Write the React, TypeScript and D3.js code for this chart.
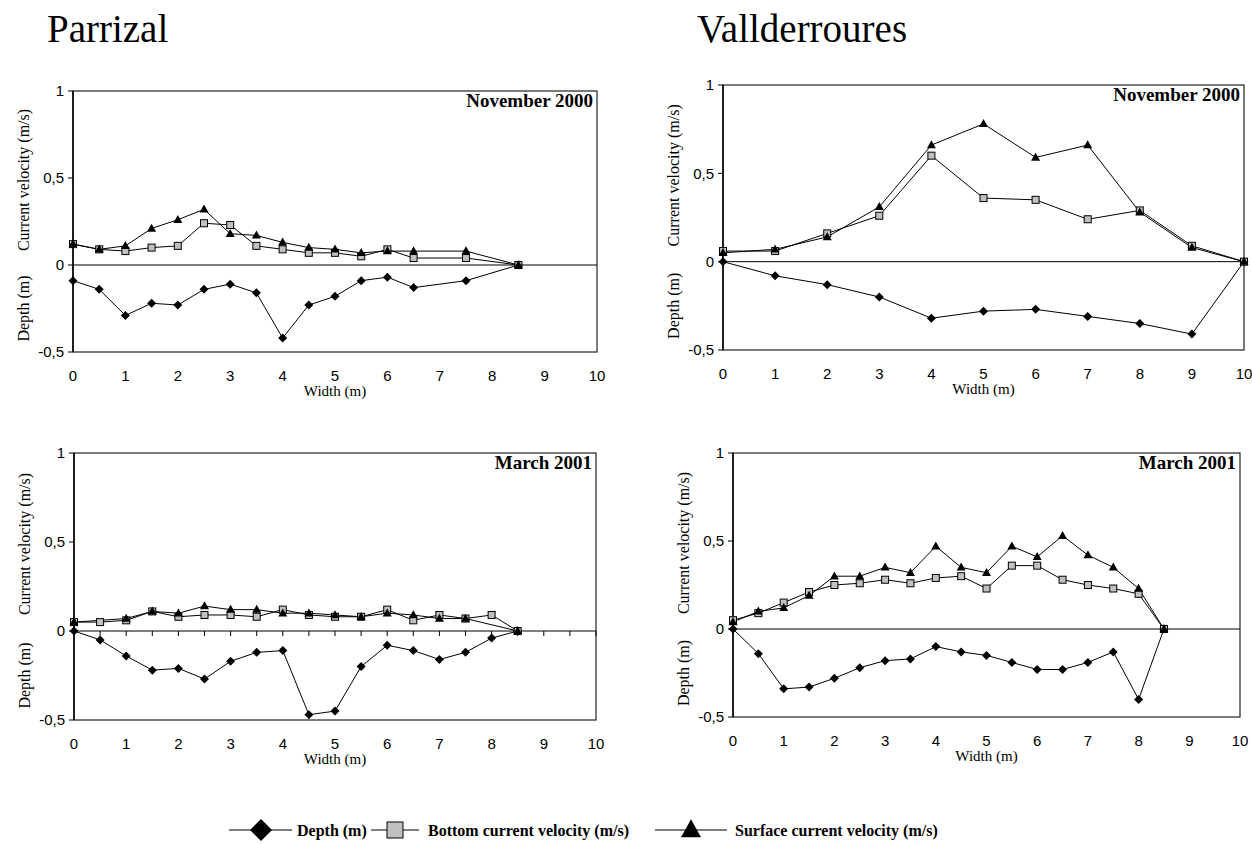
import React from "react";
import * as d3 from "d3";

// ---------- DATA ----------
const parrizalNovX = [0, 0.5, 1, 1.5, 2, 2.5, 3, 3.5, 4, 4.5, 5, 5.5, 6, 6.5, 7.5, 8.5];
const parrizalNovDepth = [-0.09, -0.14, -0.29, -0.22, -0.23, -0.14, -0.11, -0.16, -0.42, -0.23, -0.18, -0.09, -0.07, -0.13, -0.09, 0];
const parrizalNovBottom = [0.12, 0.09, 0.08, 0.10, 0.11, 0.24, 0.23, 0.11, 0.09, 0.07, 0.07, 0.05, 0.09, 0.04, 0.04, 0];
const parrizalNovSurface = [0.12, 0.09, 0.11, 0.21, 0.26, 0.32, 0.18, 0.17, 0.13, 0.10, 0.09, 0.07, 0.08, 0.08, 0.08, 0];

const vallNovX = [0, 1, 2, 3, 4, 5, 6, 7, 8, 9, 10];
const vallNovDepth = [0, -0.08, -0.13, -0.20, -0.32, -0.28, -0.27, -0.31, -0.35, -0.41, 0];
const vallNovBottom = [0.06, 0.06, 0.16, 0.26, 0.60, 0.36, 0.35, 0.24, 0.29, 0.09, 0];
const vallNovSurface = [0.05, 0.07, 0.14, 0.31, 0.66, 0.78, 0.59, 0.66, 0.28, 0.08, 0];

const parrizalMarX = [0, 0.5, 1, 1.5, 2, 2.5, 3, 3.5, 4, 4.5, 5, 5.5, 6, 6.5, 7, 7.5, 8, 8.5];
const parrizalMarDepth = [0, -0.05, -0.14, -0.22, -0.21, -0.27, -0.17, -0.12, -0.11, -0.47, -0.45, -0.20, -0.08, -0.11, -0.16, -0.12, -0.04, 0];
const parrizalMarBottom = [0.05, 0.05, 0.06, 0.11, 0.08, 0.09, 0.09, 0.08, 0.12, 0.09, 0.08, 0.08, 0.12, 0.06, 0.09, 0.07, 0.09, 0];
const parrizalMarSurfaceX = [0, 1, 1.5, 2, 2.5, 3, 3.5, 4, 4.5, 5, 5.5, 6, 6.5, 7, 7.5, 8.5];
const parrizalMarSurface = [0.05, 0.07, 0.11, 0.10, 0.14, 0.12, 0.12, 0.10, 0.10, 0.09, 0.08, 0.10, 0.09, 0.07, 0.07, 0];

const vallMarX = [0, 0.5, 1, 1.5, 2, 2.5, 3, 3.5, 4, 4.5, 5, 5.5, 6, 6.5, 7, 7.5, 8, 8.5];
const vallMarDepth = [0, -0.14, -0.34, -0.33, -0.28, -0.22, -0.18, -0.17, -0.10, -0.13, -0.15, -0.19, -0.23, -0.23, -0.19, -0.13, -0.40, 0];
const vallMarBottom = [0.05, 0.09, 0.15, 0.21, 0.25, 0.26, 0.28, 0.26, 0.29, 0.30, 0.23, 0.36, 0.36, 0.28, 0.25, 0.23, 0.20, 0];
const vallMarSurface = [0.04, 0.10, 0.12, 0.19, 0.30, 0.30, 0.35, 0.32, 0.47, 0.35, 0.32, 0.47, 0.41, 0.53, 0.42, 0.35, 0.23, 0];

const xTicks = [0, 1, 2, 3, 4, 5, 6, 7, 8, 9, 10];
const yTicks = [1, 0.5, 0, -0.5];
const yTickLabels = ["1", "0,5", "0", "-0,5"];
const siteTitles = ["Parrizal", "Vallderroures"];
const dateLabels = ["November 2000", "March 2001"];
const legendLabels = ["Depth (m)", "Bottom current velocity (m/s)", "Surface current velocity (m/s)"];

// ---------- LAYOUT ----------
const SERIF = "'Liberation Serif', 'Times New Roman', serif";
const SANS = "'Liberation Sans', Arial, sans-serif";

type Series = { x: number[]; y: number[] };
type PanelCfg = {
  left: number; right: number; top: number; bottom: number;
  date: string;
  depth: Series; bottomV: Series; surface: Series;
  zeroTicks: boolean;
};

const panels: PanelCfg[] = [
  { left: 73, right: 597, top: 91, bottom: 352, date: dateLabels[0],
    depth: { x: parrizalNovX, y: parrizalNovDepth }, bottomV: { x: parrizalNovX, y: parrizalNovBottom },
    surface: { x: parrizalNovX, y: parrizalNovSurface }, zeroTicks: false },
  { left: 723, right: 1244, top: 85, bottom: 350, date: dateLabels[0],
    depth: { x: vallNovX, y: vallNovDepth }, bottomV: { x: vallNovX, y: vallNovBottom },
    surface: { x: vallNovX, y: vallNovSurface }, zeroTicks: false },
  { left: 74, right: 596, top: 453, bottom: 720, date: dateLabels[1],
    depth: { x: parrizalMarX, y: parrizalMarDepth }, bottomV: { x: parrizalMarX, y: parrizalMarBottom },
    surface: { x: parrizalMarSurfaceX, y: parrizalMarSurface }, zeroTicks: true },
  { left: 733, right: 1240, top: 453, bottom: 717, date: dateLabels[1],
    depth: { x: vallMarX, y: vallMarDepth }, bottomV: { x: vallMarX, y: vallMarBottom },
    surface: { x: vallMarX, y: vallMarSurface }, zeroTicks: false },
];

const diamondPath = (cx: number, cy: number, r: number) =>
  `M${cx},${cy - r}L${cx + r},${cy}L${cx},${cy + r}L${cx - r},${cy}Z`;
const trianglePath = (cx: number, cy: number, w: number, h: number) =>
  `M${cx},${cy - h * 0.6}L${cx + w / 2},${cy + h * 0.4}L${cx - w / 2},${cy + h * 0.4}Z`;

function Panel({ p }: { p: PanelCfg }) {
  const x = d3.scaleLinear().domain([0, 10]).range([p.left, p.right]);
  const y = d3.scaleLinear().domain([-0.5, 1]).range([p.bottom, p.top]);
  const mkLine = (s: Series) =>
    d3.line<number>().x((_, i) => x(s.x[i])).y((d) => y(d))(s.y) || "";
  const zeroTickXs = d3.range(0, 10.001, 0.5);
  const cx = (p.left + p.right) / 2;
  return (
    <g>
      {/* frame */}
      <rect x={p.left} y={p.top} width={p.right - p.left} height={p.bottom - p.top}
        fill="none" stroke="#222" strokeWidth={1.2} />
      <line x1={p.left} x2={p.left} y1={p.top} y2={p.bottom} stroke="#000" strokeWidth={1.5} />
      {/* zero line */}
      <line x1={p.left} x2={p.right} y1={y(0)} y2={y(0)} stroke="#000" strokeWidth={1} />
      {p.zeroTicks && zeroTickXs.map((t) => (
        <line key={t} x1={x(t)} x2={x(t)} y1={y(0)} y2={y(0) + 5} stroke="#000" strokeWidth={1} />
      ))}
      {/* y ticks */}
      {yTicks.map((t, i) => (
        <g key={t}>
          <line x1={p.left - 5} x2={p.left} y1={y(t)} y2={y(t)} stroke="#000" strokeWidth={1} />
          <text x={p.left - 9} y={y(t)} dy="0.36em" textAnchor="end" fontFamily={SANS} fontSize={15} fill="#000">
            {yTickLabels[i]}
          </text>
        </g>
      ))}
      {/* x tick labels */}
      {xTicks.map((t) => (
        <text key={t} x={x(t)} y={p.bottom + 24} dy="0.36em" textAnchor="middle" fontFamily={SANS} fontSize={15} fill="#000">
          {t}
        </text>
      ))}
      <text x={cx} y={p.bottom + 44} textAnchor="middle" fontFamily={SERIF} fontSize={15} fill="#000">Width (m)</text>
      {/* y axis titles */}
      <text transform={`translate(${p.left - 50},${(y(1) + y(0)) / 2 + 2}) rotate(-90)`} textAnchor="middle"
        dy="0.35em" fontFamily={SERIF} fontSize={16} fill="#000">Current velocity (m/s)</text>
      <text transform={`translate(${p.left - 50},${(y(0) + y(-0.5)) / 2}) rotate(-90)`} textAnchor="middle"
        dy="0.35em" fontFamily={SERIF} fontSize={16} fill="#000">Depth (m)</text>
      {/* date label */}
      <text x={p.right - 4} y={p.top + 16} textAnchor="end" fontFamily={SERIF} fontWeight="bold" fontSize={19} fill="#000">
        {p.date}
      </text>
      {/* series lines */}
      <path d={mkLine(p.depth)} fill="none" stroke="#000" strokeWidth={1} />
      <path d={mkLine(p.bottomV)} fill="none" stroke="#000" strokeWidth={1} />
      <path d={mkLine(p.surface)} fill="none" stroke="#000" strokeWidth={1} />
      {/* markers */}
      {p.depth.y.map((v, i) => (
        <path key={"d" + i} d={diamondPath(x(p.depth.x[i]), y(v), 4.5)} fill="#000" />
      ))}
      {p.bottomV.y.map((v, i) => (
        <rect key={"b" + i} x={x(p.bottomV.x[i]) - 3.5} y={y(v) - 3.5} width={7} height={7}
          fill="#c0c0c0" stroke="#000" strokeWidth={1} />
      ))}
      {p.surface.y.map((v, i) => (
        <path key={"s" + i} d={trianglePath(x(p.surface.x[i]), y(v), 9, 8)} fill="#000" />
      ))}
    </g>
  );
}

export default function App() {
  const legY = 830;
  return (
    <svg width={1252} height={845} style={{ position: "absolute", left: 0, top: 0, background: "#fff" }}>
      <rect width={1252} height={845} fill="#fff" />
      <text x={47} y={42} fontFamily={SERIF} fontSize={39} fill="#000">{siteTitles[0]}</text>
      <text x={697} y={42} fontFamily={SERIF} fontSize={39} fill="#000">{siteTitles[1]}</text>
      {panels.map((p, i) => <Panel key={i} p={p} />)}
      {/* legend */}
      <g>
        <line x1={229} x2={292} y1={legY} y2={legY} stroke="#000" strokeWidth={1.2} />
        <path d={diamondPath(261, legY, 11)} fill="#000" />
        <text x={297} y={legY} dy="0.35em" fontFamily={SERIF} fontWeight="bold" fontSize={16} fill="#000">{legendLabels[0]}</text>
        <line x1={371} x2={419} y1={legY} y2={legY} stroke="#000" strokeWidth={1.2} />
        <rect x={387} y={legY - 8} width={16} height={16} fill="#c0c0c0" stroke="#000" strokeWidth={1} />
        <text x={428} y={legY} dy="0.35em" fontFamily={SERIF} fontWeight="bold" fontSize={16} fill="#000">{legendLabels[1]}</text>
        <line x1={655} x2={727} y1={legY} y2={legY} stroke="#000" strokeWidth={1.2} />
        <path d={trianglePath(691, legY, 20, 18)} fill="#000" />
        <text x={735} y={legY} dy="0.35em" fontFamily={SERIF} fontWeight="bold" fontSize={16} fill="#000">{legendLabels[2]}</text>
      </g>
    </svg>
  );
}
